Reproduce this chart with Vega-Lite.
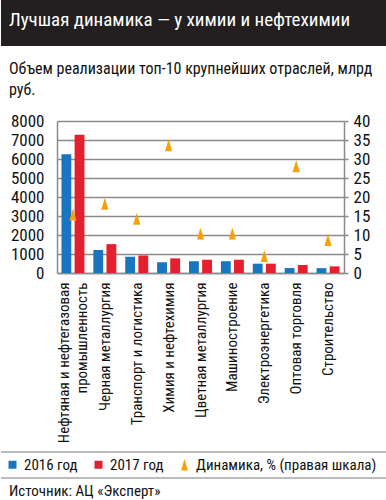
{
  "$schema": "https://vega.github.io/schema/vega-lite/v6.json",
  "padding": 0,
  "spacing": 8,
  "background": "white",
  "config": {
    "view": {"stroke": null},
    "font": "Roboto Condensed, Liberation Sans Narrow, sans-serif",
    "axis": {"labelColor": "#111", "domainColor": "#8a8a8a", "tickColor": "#8a8a8a", "labelFont": "Roboto Condensed, Liberation Sans Narrow, sans-serif", "titleFont": "Roboto Condensed, Liberation Sans Narrow, sans-serif"},
    "title": {"font": "Roboto Condensed, Liberation Sans Narrow, sans-serif"},
    "legend": {"labelFont": "Roboto Condensed, Liberation Sans Narrow, sans-serif"}
  },
  "resolve": {"scale": {"color": "independent"}, "legend": {"color": "independent"}},
  "datasets": {
    "sales": [
      {"industry": "Нефтяная и нефтегазовая промышленность", "year": "2016 год", "value": 6250},
      {"industry": "Нефтяная и нефтегазовая промышленность", "year": "2017 год", "value": 7280},
      {"industry": "Черная металлургия", "year": "2016 год", "value": 1210},
      {"industry": "Черная металлургия", "year": "2017 год", "value": 1520},
      {"industry": "Транспорт и логистика", "year": "2016 год", "value": 860},
      {"industry": "Транспорт и логистика", "year": "2017 год", "value": 920},
      {"industry": "Химия и нефтехимия", "year": "2016 год", "value": 560},
      {"industry": "Химия и нефтехимия", "year": "2017 год", "value": 770},
      {"industry": "Цветная металлургия", "year": "2016 год", "value": 620},
      {"industry": "Цветная металлургия", "year": "2017 год", "value": 700},
      {"industry": "Машиностроение", "year": "2016 год", "value": 620},
      {"industry": "Машиностроение", "year": "2017 год", "value": 700},
      {"industry": "Электроэнергетика", "year": "2016 год", "value": 490},
      {"industry": "Электроэнергетика", "year": "2017 год", "value": 490},
      {"industry": "Оптовая торговля", "year": "2016 год", "value": 260},
      {"industry": "Оптовая торговля", "year": "2017 год", "value": 420},
      {"industry": "Строительство", "year": "2016 год", "value": 255},
      {"industry": "Строительство", "year": "2017 год", "value": 350}
    ],
    "dynamics": [
      {"industry": "Нефтяная и нефтегазовая промышленность", "dyn": 15.4},
      {"industry": "Черная металлургия", "dyn": 18.2},
      {"industry": "Транспорт и логистика", "dyn": 14.3},
      {"industry": "Химия и нефтехимия", "dyn": 33.6},
      {"industry": "Цветная металлургия", "dyn": 10.4},
      {"industry": "Машиностроение", "dyn": 10.4},
      {"industry": "Электроэнергетика", "dyn": 4.5},
      {"industry": "Оптовая торговля", "dyn": 28.1},
      {"industry": "Строительство", "dyn": 8.7}
    ],
    "legendItems": [
      {"series": "2016 год"},
      {"series": "2017 год"},
      {"series": "Динамика, % (правая шкала)"}
    ],
    "separators": [
      {"pos": 0},
      {"pos": 1}
    ],
    "header": [
      {"t": "Лучшая динамика — у химии и нефтехимии"}
    ],
    "empty": []
  },
  "vconcat": [
    {
      "width": 386,
      "height": 46,
      "view": {"fill": "#231f20", "stroke": null},
      "data": {"name": "header"},
      "mark": {"type": "text", "align": "left", "baseline": "middle", "dx": -185, "dy": -3, "fontSize": 19, "fill": "white"},
      "encoding": {"text": {"field": "t"}},
      "title": {
        "text": ["Объем реализации топ-10 крупнейших отраслей, млрд", "руб."],
        "orient": "bottom", "anchor": "start", "frame": "group",
        "offset": 15, "dx": 8, "fontSize": 16, "fontWeight": "normal",
        "color": "#111", "lineHeight": 21
      }
    },
    {
      "spacing": 0,
      "hconcat": [
        {
          "width": 6,
          "height": 10,
          "data": {"name": "empty"},
          "mark": {"type": "point", "opacity": 0},
          "encoding": {}
        },
        {
          "width": 287,
          "height": 152,
          "layer": [
            {
              "data": {"name": "sales"},
              "mark": {"type": "bar"},
              "encoding": {
                "x": {
                  "field": "industry", "type": "nominal",
                  "scale": {
                    "domain": ["Нефтяная и нефтегазовая промышленность", "Черная металлургия", "Транспорт и логистика", "Химия и нефтехимия", "Цветная металлургия", "Машиностроение", "Электроэнергетика", "Оптовая торговля", "Строительство"],
                    "paddingInner": 0.28, "paddingOuter": 0.14
                  },
                  "axis": {
                    "title": null, "labelAngle": -90, "labelAlign": "right", "labelBaseline": "middle",
                    "labelFontSize": 15, "labelLineHeight": 18, "labelPadding": 9, "labelLimit": 400, "ticks": false,
                    "domain": true, "domainColor": "#8a8a8a", "domainWidth": 1.5,
                    "labelExpr": "datum.label == 'Нефтяная и нефтегазовая промышленность' ? ['Нефтяная и нефтегазовая', 'промышленность'] : datum.label",
                    "labelOffset": {"condition": {"test": "datum.value == 'Нефтяная и нефтегазовая промышленность'", "value": -9}, "value": 0}
                  }
                },
                "xOffset": {"field": "year", "type": "nominal", "scale": {"paddingInner": 0.25}},
                "y": {
                  "field": "value", "type": "quantitative",
                  "scale": {"domain": [0, 8000], "nice": false},
                  "axis": {
                    "title": " ", "titleX": -50, "titleY": -15, "titleAngle": 0, "titleAlign": "left", "titleBaseline": "top", "titleFontSize": 4,
                    "values": [0, 1000, 2000, 3000, 4000, 5000, 6000, 7000, 8000], "format": "d",
                    "labelFontSize": 17, "labelPadding": 13, "ticks": false,
                    "grid": true, "gridColor": "#8a8a8a", "gridWidth": 1.5,
                    "domain": true, "domainColor": "#8a8a8a", "domainWidth": 1.5
                  }
                },
                "color": {
                  "field": "year", "type": "nominal",
                  "scale": {"domain": ["2016 год", "2017 год"], "range": ["#1a75c0", "#e51f2d"]},
                  "legend": null
                }
              }
            },
            {
              "data": {"name": "dynamics"},
              "mark": {"type": "point", "filled": true, "opacity": 1, "shape": "M0,-1L0.6,1L-0.6,1Z", "size": 144, "color": "#f5a20a"},
              "encoding": {
                "x": {"field": "industry", "type": "nominal"},
                "y": {
                  "field": "dyn", "type": "quantitative",
                  "scale": {"domain": [0, 40], "nice": false},
                  "axis": {
                    "orient": "right", "title": null,
                    "values": [0, 5, 10, 15, 20, 25, 30, 35, 40],
                    "labelFontSize": 17, "labelPadding": 5, "tickSize": 4, "tickWidth": 1.5,
                    "grid": false, "domain": true, "domainColor": "#8a8a8a", "domainWidth": 1.5
                  }
                }
              }
            }
          ],
          "resolve": {"scale": {"y": "independent"}}
        }
      ]
    },
    {
      "width": 386,
      "height": 26,
      "layer": [
        {
          "data": {"name": "separators"},
          "mark": {"type": "rule", "color": "#7a7a7a", "strokeWidth": 1},
          "encoding": {
            "y": {"field": "pos", "type": "quantitative", "scale": {"domain": [0, 1], "nice": false, "zero": false}, "axis": null}
          }
        },
        {
          "data": {"name": "legendItems"},
          "mark": {"type": "point", "filled": true, "opacity": 0},
          "encoding": {
            "color": {
              "field": "series", "type": "nominal",
              "scale": {"domain": ["2016 год", "2017 год", "Динамика, % (правая шкала)"], "range": ["#1a75c0", "#e51f2d", "#f5a20a"]},
              "legend": {
                "orient": "none", "legendX": 4, "legendY": 5, "direction": "horizontal",
                "title": null, "labelFontSize": 15, "labelColor": "#111", "labelLimit": 300, "symbolOpacity": 1,
                "columnPadding": 13, "labelOffset": 4, "symbolStrokeWidth": 0,
                "encode": {
                  "symbols": {
                    "update": {
                      "shape": {"signal": "datum.value === 'Динамика, % (правая шкала)' ? 'M0,-1L0.6,1L-0.6,1Z' : 'square'"},
                      "size": {"signal": "datum.value === 'Динамика, % (правая шкала)' ? 130 : 64"}
                    }
                  }
                }
              }
            }
          }
        }
      ],
      "title": {
        "text": "Источник: АЦ «Эксперт»",
        "orient": "bottom", "anchor": "start", "frame": "group",
        "offset": 5, "dx": 8, "fontSize": 15, "fontWeight": "normal", "color": "#111"
      }
    }
  ]
}
